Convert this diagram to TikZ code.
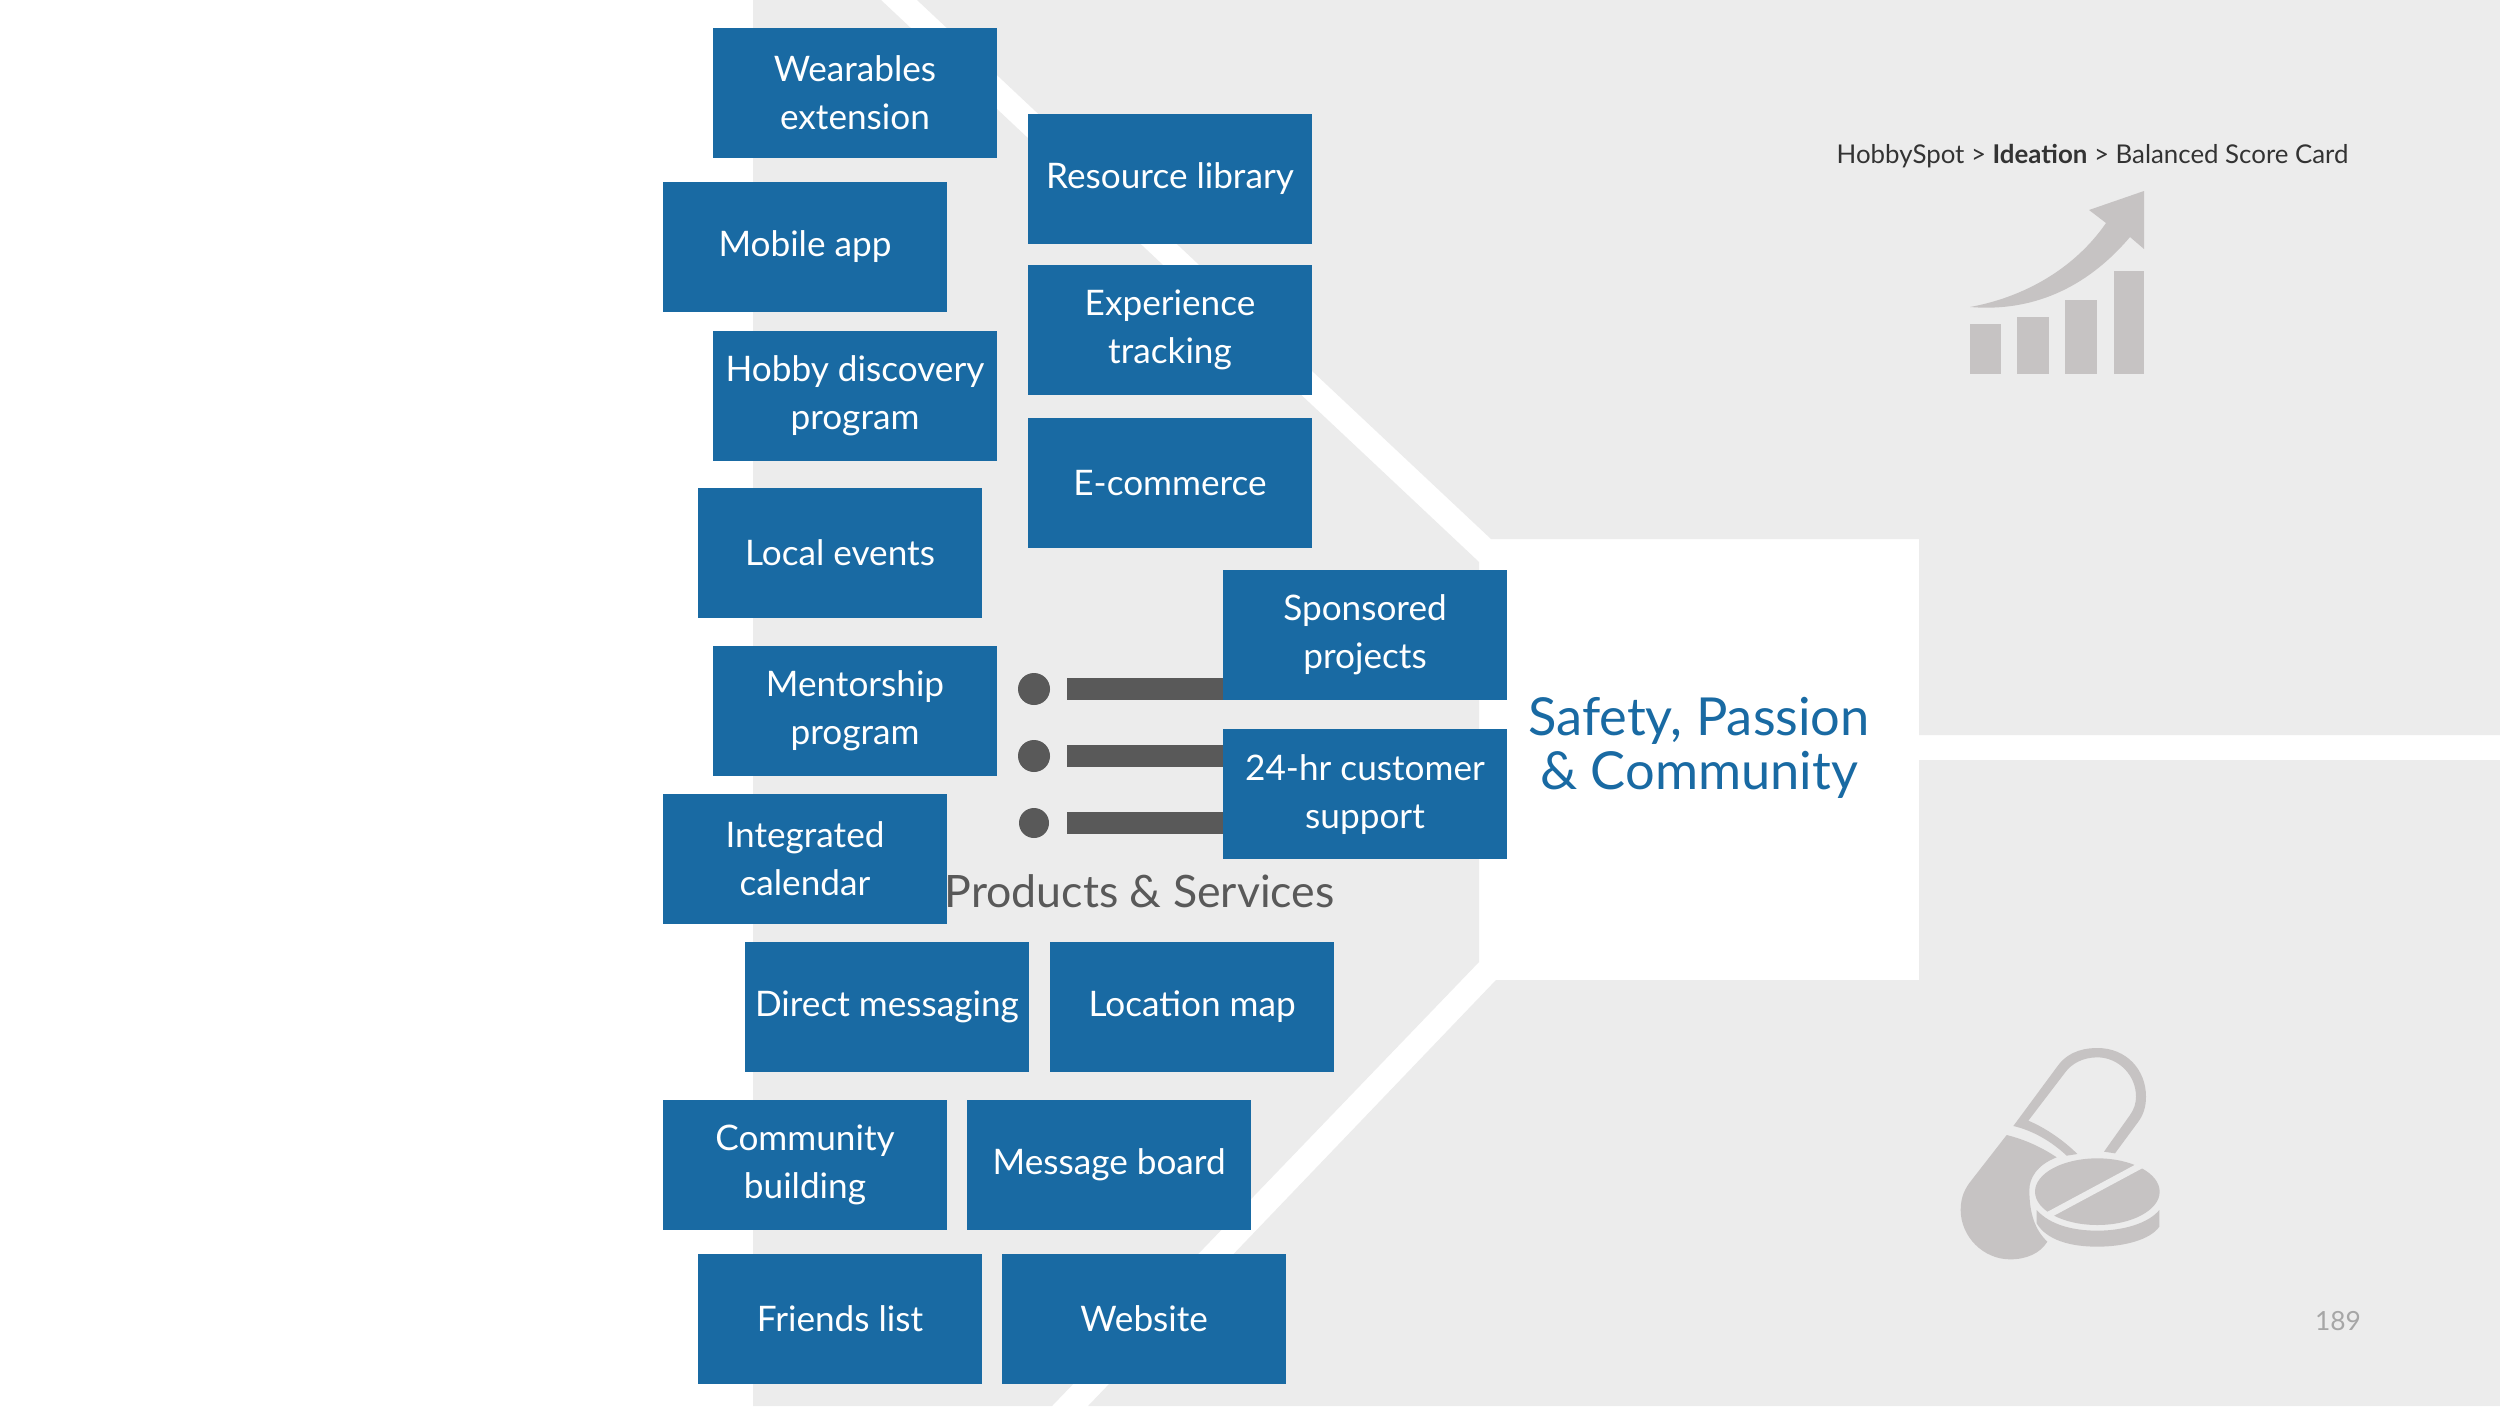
\documentclass[tikz,border=0pt]{standalone}
\usepackage{fontspec}
\setmainfont{Lato}
\usepackage{xcolor}
\usetikzlibrary{positioning}

\definecolor{panelgrey}{HTML}{ECECEC}
\definecolor{boxblue}{HTML}{196AA3}
\definecolor{bardark}{HTML}{595959}
\definecolor{icongrey}{HTML}{C6C3C3}

\begin{document}
\begin{tikzpicture}[
        x=0.01cm,
        y=-0.01cm,
        panel/.style={fill=panelgrey, draw=none},
        bluebox/.style={
            rectangle,
            fill=boxblue,
            minimum width=2.84cm,
            minimum height=1.30cm,
            inner sep=0pt,
            outer sep=0pt,
            align=center,
            text=white,
            font=\fontsize{10}{13.65}\selectfont
        },
        plaintext/.style={anchor=base west, inner sep=0pt},
        bullet/.style={circle, fill=bardark, minimum size=0.32cm, inner sep=0pt},
        bulletbar/.style={line width=0.22cm, draw=bardark},
        icon/.style={fill=icongrey, draw=none}
    ]
    \useasboundingbox (0,0) rectangle (2500,1406);
    \fill[white] (0,0) rectangle (2500,1406);

    % Background panels
    \path[panel] (753,0) -- (881,0) -- (1479,562) -- (1479,962) -- (1052,1406) -- (753,1406) -- cycle;
    \path[panel] (917,0) -- (2500,0) -- (2500,735) -- (1919,735) -- (1919,539) -- (1491,539) -- cycle;
    \path[panel] (2500,760) -- (1919,760) -- (1919,980) -- (1496,980) -- (1088,1406) -- (2500,1406) -- cycle;

    % Titles
    \node[plaintext, font=\fontsize{12.7}{15}\selectfont, text=bardark] (products) at (944,907) {Products \& Services};
    \node[align=center, font=\fontsize{14.9}{15.4}\selectfont, text=boxblue] (safety) at (1699,748) {Safety, Passion\\\& Community};
    \node[plaintext, font=\fontsize{7.35}{9}\selectfont, text=black!80] (crumb) at (1836,163)
        {HobbySpot > \textbf{Ideation} > Balanced Score Card};
    \node[font=\fontsize{7.5}{9}\selectfont, text=black!35] (pagenum) at (2338,1321) {189};

    % Bullets behind the boxes
    \node[bullet] (dota) at (1034,689) {};
    \node[bullet] (dotb) at (1034,756) {};
    \node[bullet, minimum size=0.30cm] (dotc) at (1034,823) {};
    \coordinate (bara) at (1067,689);
    \coordinate (barb) at (1067,756);
    \coordinate (barc) at (1067,823);

    % Left column
    \node[bluebox] (wearables) at (855,93) {Wearables\\extension};
    \node[bluebox] (mobile) at (805,247) {Mobile app};
    \node[bluebox] (hobby) at (855,396) {Hobby discovery\\program};
    \node[bluebox] (local) at (840,553) {Local events};
    \node[bluebox] (mentorship) at (855,711) {Mentorship\\program};
    \node[bluebox] (calendar) at (805,859) {Integrated\\calendar};

    % Upper right column
    \node[bluebox] (library) at (1170,179) {Resource library};
    \node[bluebox, below=0.21cm of library] (tracking) {Experience\\tracking};
    \node[bluebox, below=0.23cm of tracking] (ecommerce) {E-commerce};

    % Middle pair
    \node[bluebox] (sponsored) at (1365,635) {Sponsored\\projects};
    \node[bluebox, below=0.29cm of sponsored] (support) {24-hr customer\\support};

    \draw[bulletbar] (bara) -- (bara-|sponsored.west);
    \draw[bulletbar] (barb) -- (barb-|support.west);
    \draw[bulletbar] (barc) -- (barc-|support.west);

    % Bottom rows
    \node[bluebox] (direct) at (887,1007) {Direct messaging};
    \node[bluebox, right=0.21cm of direct] (locmap) {Location map};
    \node[bluebox] (community) at (805,1165) {Community\\building};
    \node[bluebox, right=0.20cm of community] (board) {Message board};
    \node[bluebox] (friends) at (840,1319) {Friends list};
    \node[bluebox, right=0.20cm of friends] (website) {Website};

    % Chart icon
    \path[icon] (1970,324) rectangle (2001,374);
    \path[icon] (2017,317) rectangle (2049,374);
    \path[icon] (2065,300) rectangle (2097,374);
    \path[icon] (2114,271) rectangle (2144,374);
    \path[icon] (2144,191) -- (2089,210) -- (2106,223)
        .. controls (2075,268) and (2025,297) .. (1970,307)
        .. controls (2030,312) and (2085,290) .. (2130,237)
        -- (2144,249) -- cycle;

    % Pill icon
    \begin{scope}[shift={(1900,1000)}, scale=1/3]
        \path[icon] (340,378) -- (475,195) .. controls (510,150) and (560,144) .. (592,144)
            .. controls (680,144) and (738,210) .. (738,290)
            .. controls (738,320) and (730,345) .. (715,365) -- (645,460) -- (612,455) -- (690,345)
            .. controls (702,328) and (708,310) .. (708,290)
            .. controls (708,225) and (655,172) .. (592,172)
            .. controls (550,172) and (515,190) .. (495,218) -- (385,362)
            .. controls (440,385) and (495,425) .. (532,462) -- (500,467)
            .. controls (455,425) and (400,392) .. (340,378) -- cycle;
        \path[icon] (320,405) .. controls (380,420) and (430,445) .. (470,472)
            .. controls (410,495) and (388,535) .. (388,570)
            .. controls (388,640) and (405,690) .. (442,725)
            .. controls (420,760) and (380,778) .. (330,778)
            .. controls (250,778) and (182,710) .. (182,630)
            .. controls (182,590) and (195,565) .. (215,540) -- cycle;
        \path[icon] (592,575) ellipse [x radius=187, y radius=100];
        \draw[panelgrey, line width=0.065cm] (445,645) -- (730,492);
        \path[icon] (410,630) .. controls (450,675) and (520,692) .. (592,692)
            .. controls (670,692) and (745,670) .. (778,630) -- (778,680)
            .. controls (750,720) and (670,740) .. (592,740)
            .. controls (510,740) and (440,720) .. (410,670) -- cycle;
    \end{scope}
\end{tikzpicture}
\end{document}
